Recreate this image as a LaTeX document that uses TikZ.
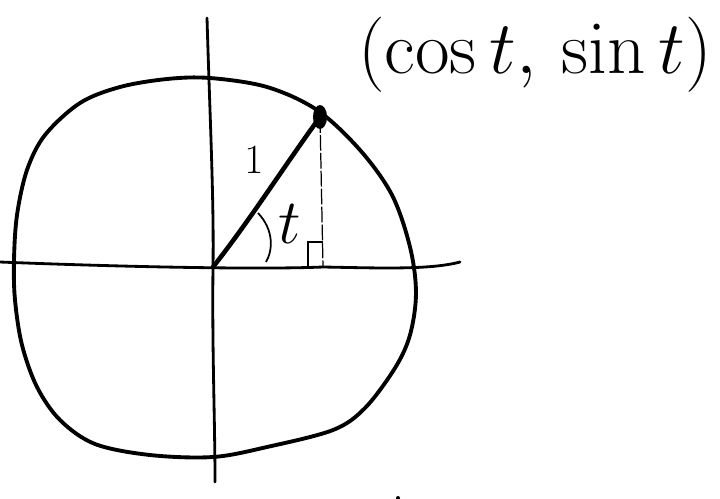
\documentclass[tikz,border=0pt]{standalone}
\usepackage{amsmath, amssymb}
\usepackage{tikz}
\usetikzlibrary{calc}

\begin{document}
\begin{tikzpicture}[
	x=0.02cm, y=-0.02cm,
	axis/.style={line width=1.6pt, line cap=round},
	curve/.style={line width=2.2pt, line join=round},
	radius/.style={line width=2.6pt, line cap=round},
	drop/.style={line width=0.7pt, dash pattern=on 9pt off 1.2pt},
	tick/.style={line width=1pt},
	lbl/.style={inner sep=0pt, font=\Huge}
]
\useasboundingbox (0,0) rectangle (720,498);

% Coordinates
\coordinate (O) at (213,267);
\coordinate (P) at (320,117);
\coordinate (F) at (323,267);
\coordinate (xl) at (0,262);
\coordinate (xr) at (460,262);
\coordinate (yt) at (207,18);
\coordinate (yb) at (215,482);

% Axes
\draw[axis] (xl) .. controls (100,266) and (250,270) .. (F) .. controls (380,268) and (430,270) .. (xr);
\draw[axis] (yt) .. controls (210,120) and (214,200) .. (O) .. controls (212,350) and (215,420) .. (yb);

% Circle
\draw[curve] plot[smooth cycle, tension=0.55] coordinates {
	(210,78) (267,87) (317,110) (360,150) (392,195) (410,247) (416,293)
	(410,335) (395,368) (365,408) (333,430) (267,447) (213,457)
	(150,455) (95,444) (60,420) (37,387) (22,345) (15,300) (14,260)
	(17,215) (27,170) (45,135) (80,103) (120,87) (167,79)};

% Radius and drop line
\draw[radius] (O) .. controls (250,220) and (285,165) .. (P);
\draw[drop] (P) -- (F);
\fill (P) ellipse (7 and 12);

% Right angle and angle mark
\draw[tick] (308,268) -- (308,242) -- (323,242);
\draw[tick] (258,213) .. controls (274,230) and (273,250) .. (266,262);

% Labels
\node[lbl, scale=1.45] (t) at (290,224) {$t$};
\node[lbl, scale=0.95] (one) at (254,160) {$1$};
\node[lbl, scale=1.72] (pt) at (535,55) {$(\cos t,\, \sin t)$};

% Stray stroke at the bottom
\fill (398,498) circle (2);

\end{tikzpicture}
\end{document}
